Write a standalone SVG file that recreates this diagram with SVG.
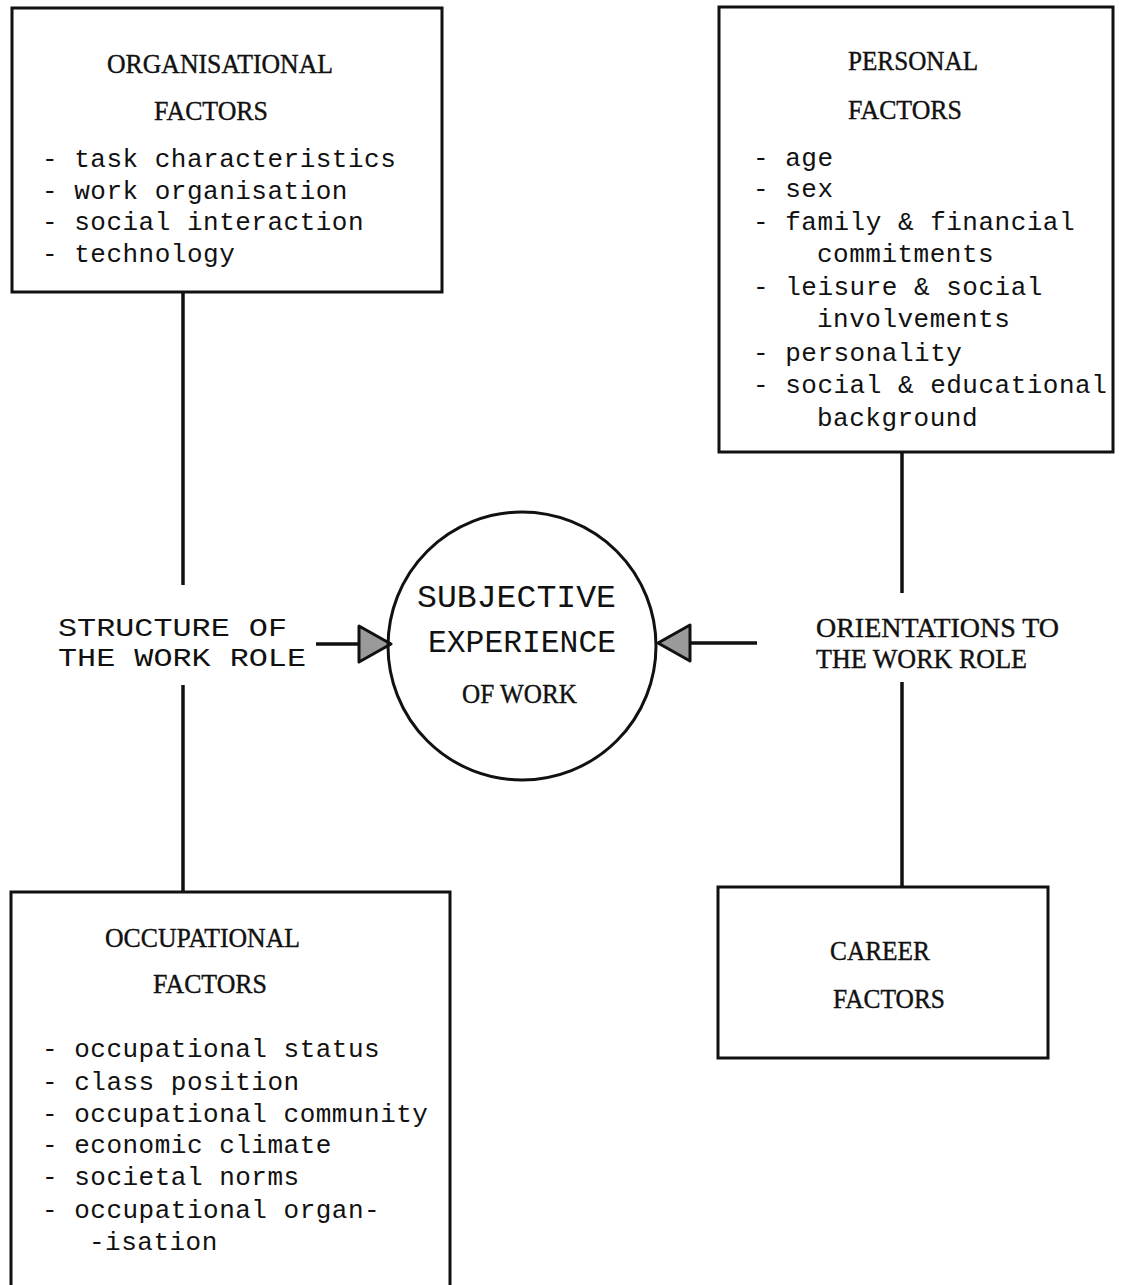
<svg xmlns="http://www.w3.org/2000/svg" width="1129" height="1285" viewBox="0 0 1129 1285">
  <style>
    .box { fill: none; stroke: #111; stroke-width: 3; }
    .line { fill: none; stroke: #111; stroke-width: 3.5; }
    .head { font-family: "Liberation Serif", serif; font-size: 27px; fill: #111; stroke: #111; stroke-width: 0.4; }
    .item { font-family: "Liberation Mono", monospace; font-size: 26px; fill: #111; letter-spacing: 0.5px; }
    .type { font-family: "Liberation Mono", monospace; font-size: 31px; fill: #111; }
    .side { font-family: "Liberation Mono", monospace; font-size: 26px; fill: #111; }
  </style>
  <defs>
    <marker id="arrow" viewBox="0 0 36 40" refX="34" refY="20" markerWidth="36" markerHeight="40" markerUnits="userSpaceOnUse" orient="auto">
      <path d="M2,2 L34,20 L2,38 Z" fill="#9a9a9a" stroke="#111" stroke-width="3" stroke-linejoin="round"/>
    </marker>
  </defs>
  <rect width="1129" height="1285" fill="#fff"/>

  <!-- connectors -->
  <g id="connectors">
    <line class="line" x1="183" y1="292" x2="183" y2="585"/>
    <line class="line" x1="183" y1="685" x2="183" y2="892"/>
    <line class="line" x1="902" y1="452" x2="902" y2="593"/>
    <line class="line" x1="902" y1="682" x2="902" y2="887"/>
    <line class="line" x1="316" y1="644" x2="391" y2="644" marker-end="url(#arrow)"/>
    <line class="line" x1="757" y1="643" x2="658" y2="643" marker-end="url(#arrow)"/>
  </g>

  <!-- organisational factors -->
  <g id="organisational">
    <rect class="box" x="12" y="8" width="430" height="284"/>
    <text class="head" x="107" y="73" textLength="226" lengthAdjust="spacingAndGlyphs">ORGANISATIONAL</text>
    <text class="head" x="154" y="120" textLength="114" lengthAdjust="spacingAndGlyphs">FACTORS</text>
    <text class="item" x="42" y="167">- task characteristics</text>
    <text class="item" x="42" y="199">- work organisation</text>
    <text class="item" x="42" y="230">- social interaction</text>
    <text class="item" x="42" y="262">- technology</text>
  </g>

  <!-- personal factors -->
  <g id="personal">
    <rect class="box" x="719" y="7" width="394" height="445"/>
    <text class="head" x="848" y="70" textLength="130" lengthAdjust="spacingAndGlyphs">PERSONAL</text>
    <text class="head" x="848" y="119" textLength="114" lengthAdjust="spacingAndGlyphs">FACTORS</text>
    <text class="item" x="753" y="166">- age</text>
    <text class="item" x="753" y="197">- sex</text>
    <text class="item" x="753" y="230">- family &amp; financial</text>
    <text class="item" x="817" y="262">commitments</text>
    <text class="item" x="753" y="295">- leisure &amp; social</text>
    <text class="item" x="817" y="327">involvements</text>
    <text class="item" x="753" y="361">- personality</text>
    <text class="item" x="753" y="393">- social &amp; educational</text>
    <text class="item" x="817" y="426">background</text>
  </g>

  <!-- central circle -->
  <g id="experience">
    <circle class="box" cx="522" cy="646" r="134"/>
    <text class="type" x="417" y="607" textLength="199" lengthAdjust="spacingAndGlyphs">SUBJECTIVE</text>
    <text class="type" x="428" y="652" textLength="188" lengthAdjust="spacingAndGlyphs">EXPERIENCE</text>
    <text class="head" x="462" y="703" textLength="115" lengthAdjust="spacingAndGlyphs">OF WORK</text>
  </g>

  <!-- side labels -->
  <g id="structure">
    <text class="side" x="58" y="636" textLength="229" lengthAdjust="spacingAndGlyphs">STRUCTURE OF</text>
    <text class="side" x="58" y="666" textLength="248" lengthAdjust="spacingAndGlyphs">THE WORK ROLE</text>
  </g>
  <g id="orientations">
    <text class="head" x="816" y="637" textLength="243" lengthAdjust="spacingAndGlyphs">ORIENTATIONS TO</text>
    <text class="head" x="816" y="668" textLength="211" lengthAdjust="spacingAndGlyphs">THE WORK ROLE</text>
  </g>

  <!-- occupational factors (box runs off the bottom edge) -->
  <g id="occupational">
    <path class="box" d="M11,1290 L11,892 L450,892 L450,1290"/>
    <text class="head" x="105" y="947" textLength="195" lengthAdjust="spacingAndGlyphs">OCCUPATIONAL</text>
    <text class="head" x="153" y="993" textLength="114" lengthAdjust="spacingAndGlyphs">FACTORS</text>
    <text class="item" x="42" y="1057">- occupational status</text>
    <text class="item" x="42" y="1090">- class position</text>
    <text class="item" x="42" y="1122">- occupational community</text>
    <text class="item" x="42" y="1153">- economic climate</text>
    <text class="item" x="42" y="1185">- societal norms</text>
    <text class="item" x="42" y="1218">- occupational organ-</text>
    <text class="item" x="89" y="1250">-isation</text>
  </g>

  <!-- career factors -->
  <g id="career">
    <rect class="box" x="718" y="887" width="330" height="171"/>
    <text class="head" x="830" y="960" textLength="100" lengthAdjust="spacingAndGlyphs">CAREER</text>
    <text class="head" x="833" y="1008" textLength="112" lengthAdjust="spacingAndGlyphs">FACTORS</text>
  </g>
</svg>
